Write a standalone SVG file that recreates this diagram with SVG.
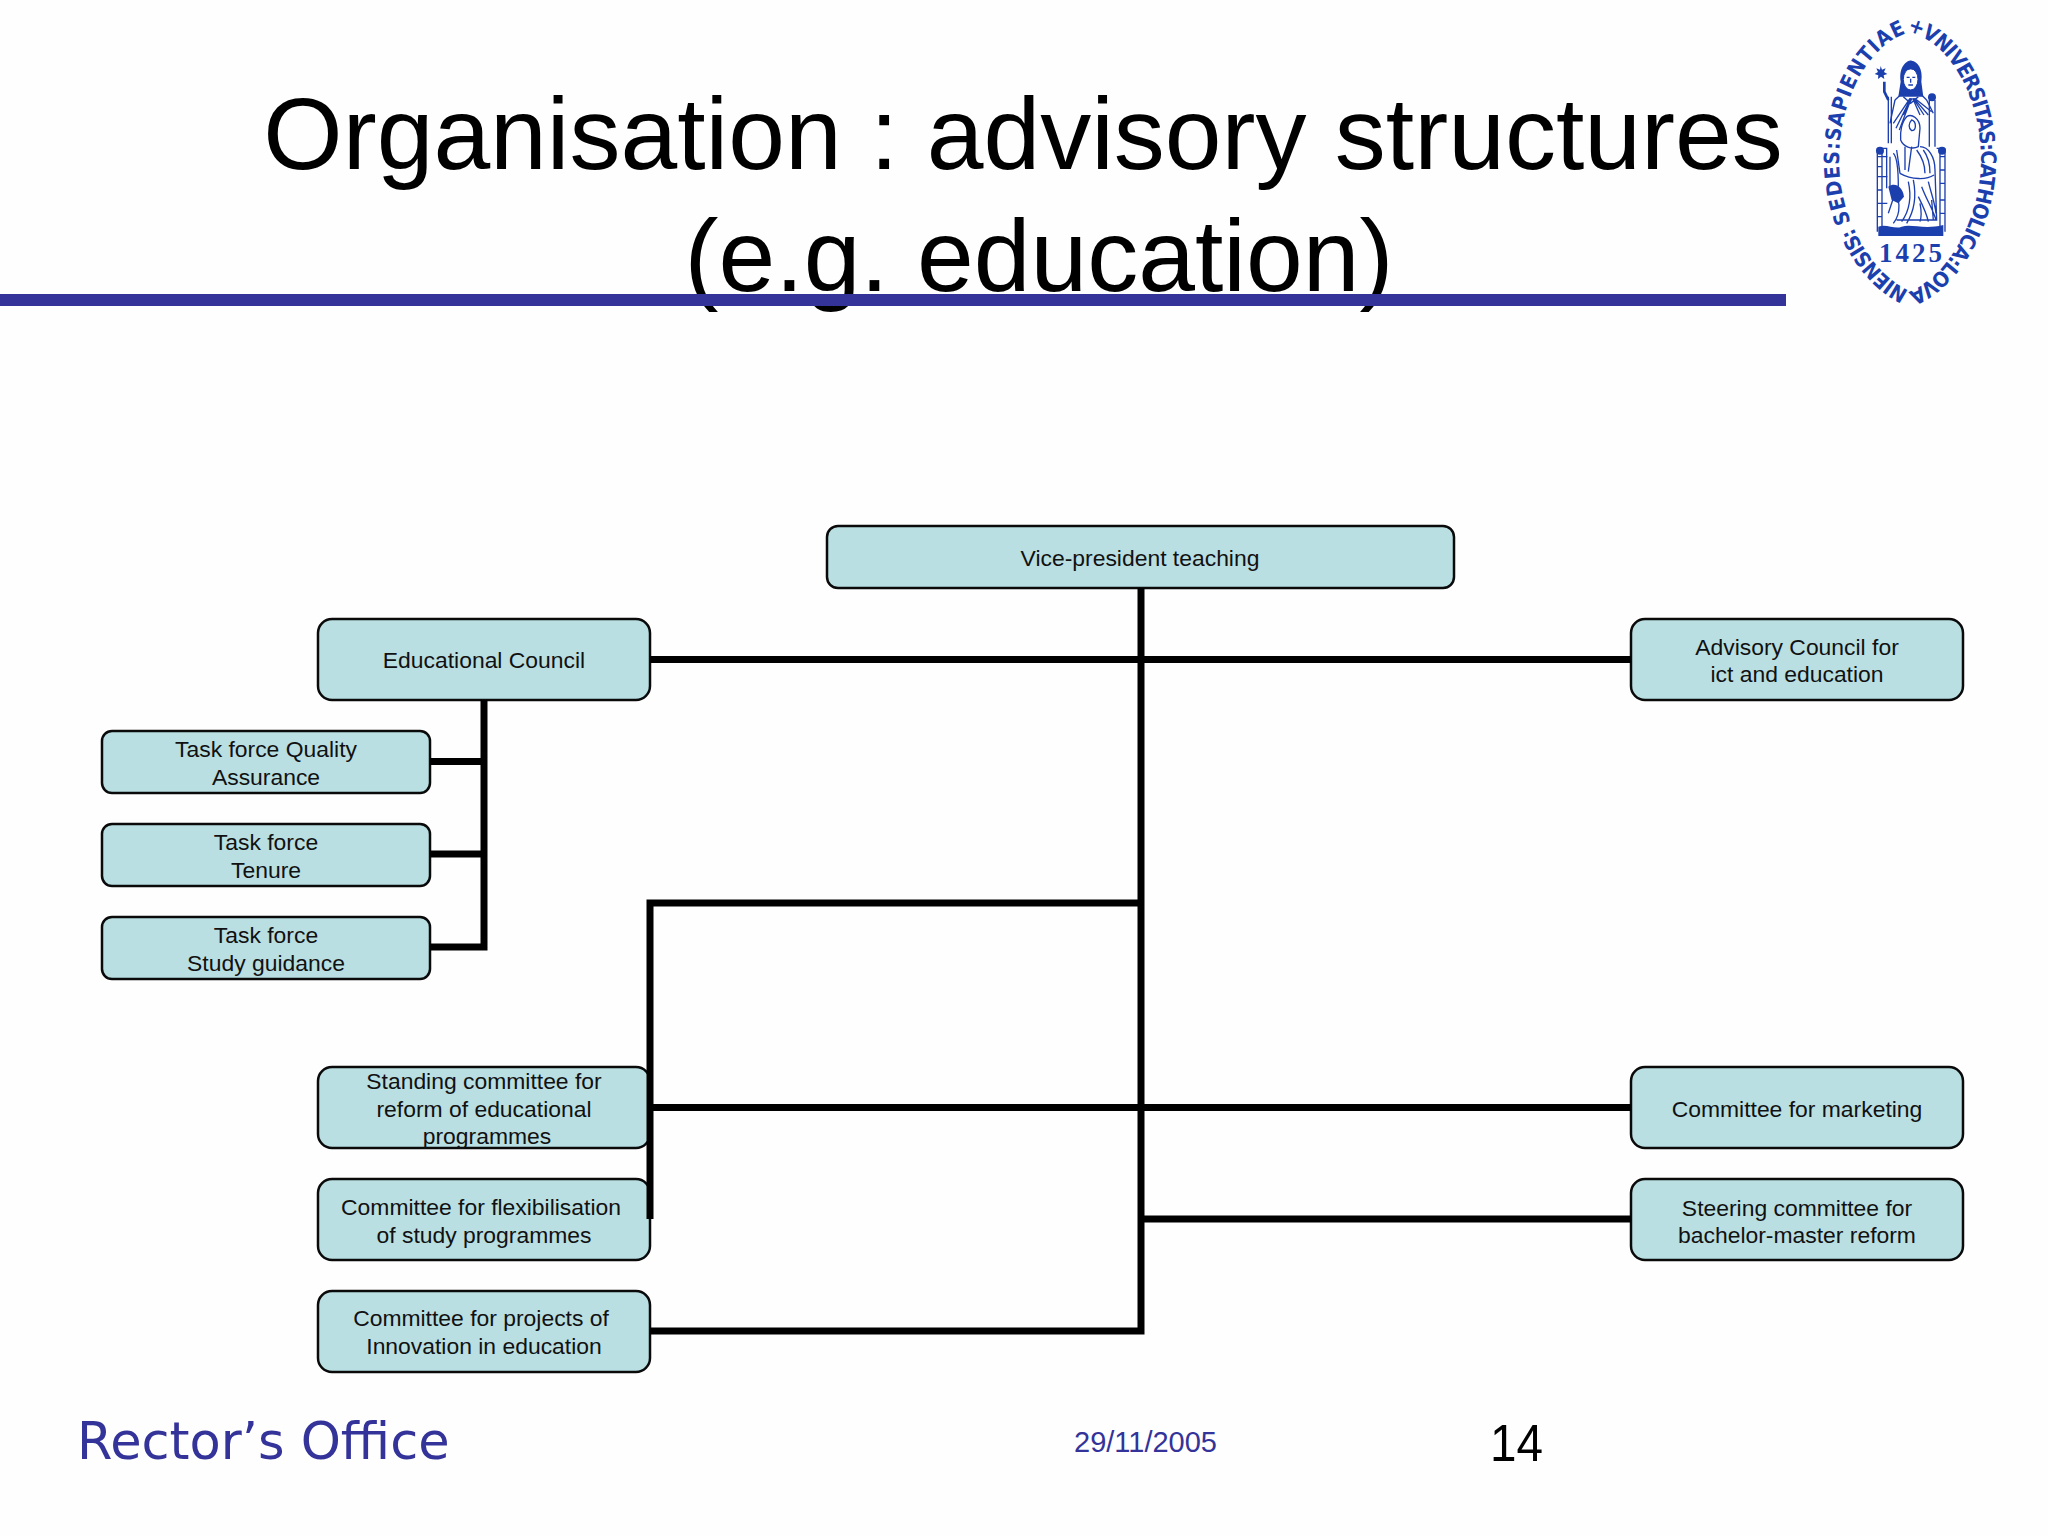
<svg xmlns="http://www.w3.org/2000/svg" width="2048" height="1536" viewBox="0 0 2048 1536">
<style>
.box{fill:#b9dfe2;stroke:#0a0a0a;stroke-width:2.500}
.t{font-family:"Liberation Sans",Arial,sans-serif;font-size:22.900px;fill:#111;text-anchor:middle}
.title{font-family:"Liberation Sans",Arial,sans-serif;font-size:102px;fill:#000;text-anchor:middle}
.c{fill:none;stroke:#000;stroke-width:7}
.s{fill:none;stroke:#1c3fae;stroke-width:4}
.sf{fill:#1c3fae}
</style>
<defs>
<path id="ring" d="M1851 222C1843 203 1839 180 1839 160C1839 105 1865 45 1910 32C1955 45 1981 105 1981 160C1981 215 1950 275 1910 291C1885 280 1864 254 1851 222"/>
</defs>
<rect width="2048" height="1536" fill="#fefefe"/>
<g id="title">
<text class="title" x="1023" y="169">Organisation : advisory structures</text>
<text class="title" x="1039" y="291">(e.g. education)</text>
</g>
<rect id="rule" x="0" y="294" width="1786" height="12" fill="#333399"/>
<g id="seal">
<text font-family="Liberation Sans Narrow,DejaVu Sans Condensed,sans-serif" font-weight="bold" font-size="21px" fill="#1c3fae"><textPath href="#ring"><tspan letter-spacing="0.900">SEDES:SAPIENTIAE</tspan><tspan letter-spacing="-1.050">+VNIVERSITAS:CATHOLICA:LOVANIENSIS:</tspan></textPath></text>
<text x="1912" y="262" font-family="Liberation Serif,serif" font-weight="bold" font-size="27px" letter-spacing="3" text-anchor="middle" fill="#1c3fae">1425</text>
<g transform="translate(1780 0) scale(.3333)">
<path class="sf" d="M362 245C355 195 385 180 395 182C412 184 430 205 424 245L430 290L355 290Z"/>
<ellipse cx="392" cy="238" rx="22" ry="32" fill="#fff" stroke="#1c3fae" stroke-width="3"/>
<path class="s" d="M372 212C385 202 405 204 414 214M380 232h9M397 232h9M392 236v12M385 255h14"/>
<path class="s" d="M345 300L375 272M440 300L412 272M345 300L330 370M440 300L460 340"/>
<path class="s" d="M390 295L340 370M392 295L348 385M394 295L358 390M396 295L370 345M398 295L420 345M400 295L432 345M402 295L445 345M404 295L455 335M370 290L392 310L415 290"/>
<path class="s" d="M292 445h30M292 445v250M306 445v250M470 445h25M495 445v250M480 445v250M320 445v120"/>
<path class="s" d="M325 290V430M334 290V430M448 300V440M465 300V440M292 470h30M292 530h30M292 610h30M480 470h15M480 550h15M480 640h15M292 500h14M292 570h14M292 650h14M480 510h15M480 600h15"/>
<circle class="sf" cx="456" cy="292" r="12"/>
<circle class="sf" cx="300" cy="452" r="12"/>
<circle class="sf" cx="486" cy="452" r="12"/>
<path class="sf" d="M302 198l4 11 11-4-5 11 10 6-11 4 2 11-10-7-9 7 1-11-11-4 10-6-5-11 11 4z"/>
<path class="s" style="stroke-width:8" d="M313 245V275L325 300"/>
<path class="s" d="M380 350C395 340 420 355 420 385L415 440C395 450 370 440 362 420C360 395 365 365 380 350Z"/>
<path class="s" d="M395 360C385 370 385 385 395 392C410 392 410 365 395 360ZM375 440V510M395 440L385 515M420 440C445 440 465 470 465 510L470 660H350M340 460C350 470 355 500 355 560M360 520C395 540 440 540 462 525M400 540C410 590 405 630 380 670M425 560C440 600 460 630 468 660M445 545C455 585 465 610 468 640M415 590C430 620 440 640 445 665M330 470V560M345 580L325 640M340 570C360 590 365 640 340 670M385 545C395 590 390 630 365 665M430 450C445 470 450 490 450 520M410 450C425 470 435 495 435 520M350 450L360 520M420 610C425 635 425 650 420 665M455 600L460 660"/>
<path class="sf" d="M325 560C345 545 368 560 372 590L355 610L335 600Z"/>
<path class="sf" d="M295 680C320 670 345 690 365 680C395 670 430 690 490 675V708H295Z"/>
</g>
</g>
<g id="vp"><rect class="box" x="827" y="526" width="627" height="62" rx="11"/><text class="t" x="1140" y="566">Vice-president teaching</text></g>
<g id="edu"><rect class="box" x="318" y="619" width="332" height="81" rx="14"/><text class="t" x="484" y="668">Educational Council</text></g>
<g id="adv"><rect class="box" x="1631" y="619" width="332" height="81" rx="14"/><text class="t" x="1797" y="655">Advisory Council for</text><text class="t" x="1797" y="682">ict and education</text></g>
<g id="tf1"><rect class="box" x="102" y="731" width="328" height="62" rx="10"/><text class="t" x="266" y="757">Task force Quality</text><text class="t" x="266" y="785">Assurance</text></g>
<g id="tf2"><rect class="box" x="102" y="824" width="328" height="62" rx="10"/><text class="t" x="266" y="850">Task force</text><text class="t" x="266" y="878">Tenure</text></g>
<g id="tf3"><rect class="box" x="102" y="917" width="328" height="62" rx="10"/><text class="t" x="266" y="943">Task force</text><text class="t" x="266" y="971">Study guidance</text></g>
<g id="st1"><rect class="box" x="318" y="1067" width="332" height="81" rx="14"/><text class="t" x="484" y="1089">Standing committee for</text><text class="t" x="484" y="1117">reform of educational</text><text class="t" x="487" y="1144">programmes</text></g>
<g id="st2"><rect class="box" x="318" y="1179" width="332" height="81" rx="14"/><text class="t" x="481" y="1215">Committee for flexibilisation</text><text class="t" x="484" y="1243">of study programmes</text></g>
<g id="st3"><rect class="box" x="318" y="1291" width="332" height="81" rx="14"/><text class="t" x="481" y="1326">Committee for projects of</text><text class="t" x="484" y="1354">Innovation in education</text></g>
<g id="mkt"><rect class="box" x="1631" y="1067" width="332" height="81" rx="14"/><text class="t" x="1797" y="1117">Committee for marketing</text></g>
<g id="bm"><rect class="box" x="1631" y="1179" width="332" height="81" rx="14"/><text class="t" x="1797" y="1216">Steering committee for</text><text class="t" x="1797" y="1243">bachelor-master reform</text></g>
<g id="connectors">
<path class="c" d="M1141 588V1331H650M650 659.500H1631M484 700V947H430M430 761.500H484M430 854H484M1141 903H650V1219M650 1107.500H1631M1141 1219H1631"/>
</g>
<g id="footer">
<text x="77" y="1459" font-family="DejaVu Sans,sans-serif" font-size="51px" fill="#333399">Rector’s Office</text>
<text x="1074" y="1452" font-family="Liberation Sans,sans-serif" font-size="29px" fill="#333399">29/11/2005</text>
<text x="1490" y="1461" font-family="Liberation Sans,sans-serif" font-size="52px" fill="#000" textLength="53" lengthAdjust="spacingAndGlyphs">14</text>
</g>
</svg>
